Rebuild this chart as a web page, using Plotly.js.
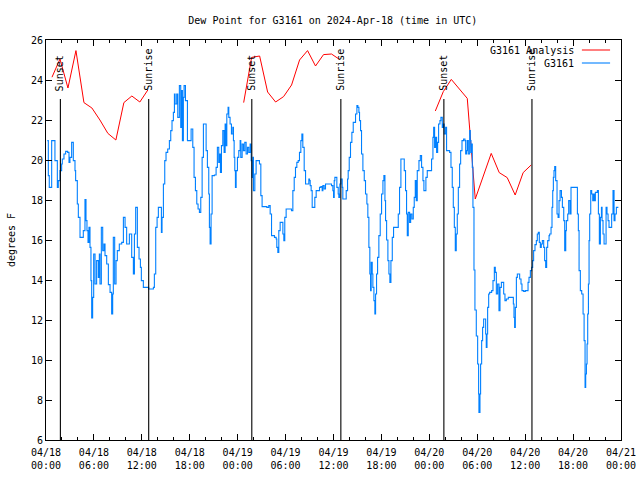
<!DOCTYPE html>
<html>
<head>
<meta charset="utf-8">
<script src="https://cdn.plot.ly/plotly-3.0.1.min.js"></script>
<style>html,body{margin:0;padding:0;background:#fff;}#chart{width:640px;height:480px;}</style>
</head>
<body>
<div id="chart"></div>
<script>
// Hours since 2024-04-18 00:00 UTC
var analysisHours = [
  0.75,1.75,2.75,3.75,4.75,5.75,6.75,7.75,8.75,9.75,10.75,11.75,12.75, null,
  24.75,25.75,26.75,27.75,28.75,29.75,30.75,31.75,32.75,33.75,34.75,35.75,36.75, null,
  48.75,49.75,50.75,51.75,52.75,53.75,54.75,55.75,56.75,57.75,58.75,59.75,60.75
];
var analysisDew = [
  24.14,25.05,23.6,25.47,22.87,22.6,22.0,21.33,21.0,22.87,23.2,22.9,23.5, null,
  22.87,25.13,25.2,23.4,22.9,23.17,23.75,25.0,25.47,24.7,25.27,25.3,25.03, null,
  22.45,23.42,24.03,23.58,23.08,18.05,19.17,20.33,19.37,19.12,18.25,19.37,19.75
];

var obsHours = [
  0.16,0.29,0.41,0.71,0.91,1.12,1.42,1.54,1.75,1.96,2.04,2.25,2.46,2.71,2.88,3.0,3.21,3.42,3.63,3.71,
  3.92,4.05,4.26,4.47,4.67,4.88,5.01,5.13,5.26,5.38,5.51,5.63,5.72,5.84,5.97,6.14,6.34,6.55,6.68,6.76,
  6.93,7.1,7.26,7.39,7.6,7.81,8.02,8.22,8.35,8.43,8.6,8.77,8.93,9.18,9.48,9.69,9.9,10.1,10.44,10.73,
  10.94,11.07,11.23,11.44,11.65,11.82,11.94,12.19,12.61,12.86,13.45,13.57,13.74,13.91,14.07,14.28,14.45,14.53,14.7,14.87,
  15.03,15.24,15.45,15.62,15.78,15.95,16.08,16.16,16.37,16.5,16.7,16.87,17.0,17.08,17.2,17.29,17.46,17.71,
  17.96,18.17,18.38,18.54,18.71,18.88,19.04,19.21,19.38,19.55,19.71,19.96,20.05,20.21,20.38,20.46,20.55,20.67,20.8,21.09,
  21.3,21.46,21.63,21.72,21.84,21.97,22.14,22.3,22.43,22.55,22.64,22.8,22.89,23.05,23.22,23.39,23.47,23.56,23.64,23.72,
  23.81,23.97,24.14,24.31,24.39,24.56,24.72,24.89,25.06,25.23,25.39,25.56,25.69,25.81,25.9,25.98,26.15,26.31,26.52,26.73,
  26.9,27.06,27.36,27.65,27.9,28.07,28.24,28.4,28.61,28.82,28.9,29.03,29.15,29.32,29.49,29.66,29.78,29.9,30.07,30.32,
  30.57,30.74,30.91,31.08,31.24,31.41,31.58,31.74,31.91,32.04,32.16,32.33,32.5,32.66,32.83,32.91,33.0,33.08,33.2,33.33,
  33.49,33.66,33.83,34.04,34.25,34.42,34.58,34.67,34.83,35.0,35.3,35.59,35.75,35.92,36.01,36.09,36.17,
  36.42,36.59,36.67,36.8,36.92,37.09,37.17,37.42,37.59,37.76,37.84,37.97,38.13,38.3,38.47,38.63,38.76,38.93,39.05,39.18,
  39.26,39.39,39.51,39.68,39.85,40.01,40.18,40.3,40.43,40.55,40.64,40.72,40.85,40.93,41.06,41.18,41.27,41.39,41.52,41.68,
  41.85,42.02,42.19,42.31,42.44,42.52,42.65,42.81,42.94,43.06,43.19,43.36,43.52,43.77,44.02,44.11,44.27,44.44,44.73,44.86,
  45.02,45.15,45.24,45.36,45.53,45.66,45.82,45.99,46.11,46.24,46.36,46.49,46.7,46.87,47.03,47.2,47.32,47.45,47.57,47.74,
  47.95,48.2,48.28,48.45,48.54,48.66,48.79,48.91,49.04,49.16,49.33,49.45,49.62,49.74,49.87,50.04,50.16,50.33,50.54,50.71,
  50.87,51.0,51.13,51.25,51.37,51.5,51.63,51.79,51.92,52.09,52.29,52.46,52.55,52.67,52.75,52.88,53.05,53.13,53.21,53.3,
  53.38,53.46,53.59,53.71,53.88,
  54.05,54.17,54.21,54.34,54.42,54.55,54.67,54.8,54.97,55.05,55.13,55.22,55.3,55.43,55.55,55.8,55.97,56.14,56.26,56.39,
  56.55,56.72,56.85,57.02,57.18,57.31,57.47,57.64,57.89,58.14,58.39,58.52,58.6,58.68,58.77,58.9,59.02,59.19,59.31,59.48,
  59.6,59.81,60.02,60.23,60.36,60.48,60.65,60.81,60.94,61.06,61.23,61.4,61.52,61.65,61.77,61.9,62.02,62.15,62.32,62.44,
  62.57,62.69,62.82,62.99,63.07,63.24,63.36,63.45,63.53,63.61,63.7,63.82,63.99,64.12,64.24,64.37,64.54,64.66,64.83,64.95,
  65.08,65.16,65.33,65.45,65.62,65.74,66.0,66.25,66.41,66.54,66.66,66.75,66.91,67.08,67.25,67.38,67.5,67.58,67.67,67.75,
  67.83,67.92,68.0,68.08,68.21,68.33,68.46,68.54,68.67,68.79,68.92,69.04,69.17,69.29,69.42,69.55,69.63,69.75,69.88,70.0,
  70.13,70.25,70.38,70.5,70.67,70.83,71.0,71.13,71.25,71.42,71.67
];
var obsDew = [
  20.97,19.22,18.63,20.97,20.97,19.97,18.63,18.97,19.47,19.8,20.05,20.3,20.43,20.38,19.88,20.13,20.88,19.97,19.47,18.97,
  17.8,17.13,16.13,16.13,16.47,18.02,16.97,16.47,15.88,16.63,15.63,13.97,12.1,13.13,15.3,13.8,14.97,14.13,15.3,13.8,
  16.63,15.47,15.8,15.22,14.8,13.77,13.38,12.3,13.3,16.13,13.8,14.97,15.47,15.8,15.88,17.13,16.63,15.8,16.3,15.13,
  14.3,16.3,17.63,15.63,15.05,14.63,13.97,13.63,13.63,13.55,13.63,14.3,16.63,17.13,17.63,17.63,16.38,17.13,18.8,19.97,
  20.38,20.55,20.97,21.47,21.97,22.38,23.3,22.8,23.3,22.13,23.72,21.63,23.47,20.97,23.13,23.72,22.97,20.97,
  20.97,21.55,20.63,19.13,18.47,17.8,17.55,17.38,18.13,20.13,21.8,21.8,20.47,19.63,18.3,16.63,15.8,17.3,19.22,19.25,
  19.63,20.63,19.88,20.3,19.38,20.72,21.47,20.38,21.8,20.72,22.3,22.63,22.13,21.8,21.3,21.63,20.97,20.13,19.47,18.63,
  19.47,20.13,20.47,20.97,20.13,20.8,20.47,20.88,20.3,20.63,20.38,20.8,19.97,19.13,20.13,18.47,19.3,19.97,19.97,19.8,
  18.22,17.67,17.67,17.63,17.72,17.3,16.22,16.22,16.13,16.05,15.63,15.38,16.47,16.88,16.88,16.3,15.97,17.13,17.55,17.55,
  17.55,17.47,18.47,19.13,19.63,19.88,19.97,20.38,20.97,21.3,20.63,19.47,18.8,18.8,18.8,19.05,18.97,18.72,18.47,17.63,
  17.63,18.13,18.47,18.47,18.63,18.67,18.47,18.72,18.55,18.8,18.8,18.8,18.72,18.47,18.13,18.97,19.13,
  18.63,18.3,18.13,18.8,19.05,18.63,18.05,18.05,18.47,19.05,19.47,20.13,20.88,21.38,21.88,21.88,22.3,22.72,22.63,22.38,
  21.97,21.47,20.3,19.47,18.97,18.3,17.8,17.13,15.63,14.3,13.47,14.88,14.3,13.63,12.97,12.3,13.3,14.3,15.13,16.22,
  17.3,18.3,18.97,19.22,17.97,16.97,16.0,14.97,14.3,13.88,14.97,16.13,16.63,16.63,16.63,17.3,18.63,20.05,20.05,19.47,
  18.47,17.3,16.22,17.38,16.88,17.3,17.05,17.63,18.13,18.97,17.97,19.47,19.97,20.22,19.63,18.97,18.47,18.47,19.13,19.47,
  19.47,19.47,20.05,21.13,21.63,20.63,21.13,20.38,20.88,21.8,21.97,22.13,21.63,21.8,21.3,21.63,20.47,20.47,20.38,19.63,
  18.63,17.63,16.63,15.47,16.3,17.3,18.63,19.8,20.47,20.97,21.05,20.97,20.3,20.47,20.97,20.3,21.47,20.97,20.38,20.8,
  19.63,17.63,14.5,12.5,11.2,
  9.8,8.3,7.38,8.3,9.8,10.97,11.63,12.05,12.05,11.3,10.63,11.3,12.63,13.3,13.38,13.47,13.97,14.63,14.38,13.3,
  13.8,12.47,13.63,13.88,13.88,13.3,12.97,13.05,13.13,13.13,13.13,12.8,12.13,11.63,12.63,14.13,14.3,14.3,14.05,13.8,
  13.47,13.43,13.47,13.47,13.88,14.13,14.47,14.63,14.97,15.47,15.77,15.97,16.3,16.38,15.88,15.63,15.8,15.97,15.63,14.97,
  14.63,15.63,15.97,16.22,16.3,16.63,17.63,18.47,19.13,19.47,19.67,18.97,17.3,17.13,17.97,18.47,18.13,17.63,16.97,15.47,
  16.47,16.97,17.3,17.97,17.3,18.63,18.63,18.63,18.63,17.3,16.47,14.47,13.47,13.3,12.3,10.97,8.63,9.3,9.8,10.8,
  12.3,13.8,15.97,17.3,18.47,18.3,17.97,18.3,17.97,18.38,18.38,18.47,17.3,15.8,17.13,17.63,16.97,16.3,15.8,15.8,
  17.63,17.3,16.97,16.63,16.63,17.3,18.47,16.97,17.3,17.63,17.63
];

var sunsetHours = [1.8, 25.77, 49.82];
var sunriseHours = [12.86, 36.92, 60.85];

var tickHours = [0,6,12,18,24,30,36,42,48,54,60,66,72];
var tickLabels = ['04/18<br>00:00','04/18<br>06:00','04/18<br>12:00','04/18<br>18:00',
  '04/19<br>00:00','04/19<br>06:00','04/19<br>12:00','04/19<br>18:00',
  '04/20<br>00:00','04/20<br>06:00','04/20<br>12:00','04/20<br>18:00','04/21<br>00:00'];

var BASE = Date.UTC(2024, 3, 18, 0, 0, 0);
function toTime(h) { return h === null ? null : BASE + h * 3600000; }

var FONT = 'DejaVu Sans Mono, Liberation Mono, monospace';

var traces = [
  {
    x: analysisHours.map(toTime), y: analysisDew, type: 'scatter', mode: 'lines',
    line: {color: '#ff0000', width: 1}, connectgaps: false, showlegend: false, hoverinfo: 'skip'
  },
  {
    x: obsHours.map(toTime), y: obsDew, type: 'scatter', mode: 'lines',
    line: {color: '#0080ff', width: 1.1, shape: 'hv'}, showlegend: false, hoverinfo: 'skip'
  }
];

var shapes = [];
var annotations = [];
function addSun(h, label) {
  shapes.push({type: 'line', xref: 'x', yref: 'paper', x0: toTime(h), x1: toTime(h), y0: 0, y1: 0.8525,
    line: {color: '#000', width: 1.1}});
  annotations.push({x: toTime(h), xref: 'x', y: 0.8675, yref: 'paper', text: label, showarrow: false,
    textangle: -90, xanchor: 'center', yanchor: 'bottom', font: {family: FONT, size: 10, color: '#000'}});
}
sunsetHours.forEach(function (h) { addSun(h, 'Sunset'); });
sunriseHours.forEach(function (h) { addSun(h, 'Sunrise'); });

// legend (gnuplot style: text then sample)
var legendItems = [
  {name: 'G3161 Analysis', color: '#ff0000', width: 1, y: 0.975},
  {name: 'G3161', color: '#0080ff', width: 1.1, y: 0.9425}
];
legendItems.forEach(function (it) {
  annotations.push({x: 0.921, xref: 'paper', y: it.y, yref: 'paper', text: it.name, showarrow: false,
    xanchor: 'right', yanchor: 'middle', font: {family: FONT, size: 10, color: '#000'}});
  shapes.push({type: 'line', xref: 'paper', yref: 'paper', x0: 0.932, x1: 0.981, y0: it.y, y1: it.y,
    line: {color: it.color, width: it.width}});
});

var layout = {
  width: 640, height: 480,
  margin: {l: 46, r: 19, t: 40, b: 40, pad: 0},
  paper_bgcolor: '#fff', plot_bgcolor: '#fff',
  font: {family: FONT, size: 10, color: '#000'},
  title: {text: 'Dew Point for G3161 on 2024-Apr-18 (time in UTC)', x: 0.52, xanchor: 'center', y: 0.958, yanchor: 'middle',
    font: {family: FONT, size: 10, color: '#000'}},
  showlegend: false,
  xaxis: {
    type: 'date', range: [toTime(0), toTime(72)],
    tickmode: 'array', tickvals: tickHours.map(toTime), ticktext: tickLabels,
    ticks: 'inside', ticklen: 6, tickcolor: '#000', tickwidth: 1,
    showline: true, linecolor: '#000', linewidth: 1, mirror: 'allticks',
    showgrid: false, zeroline: false, ticklabelstandoff: 3,
    minor: {ticks: 'inside', ticklen: 3, tickcolor: '#000', dtick: 2 * 3600000, tick0: toTime(0), showgrid: false},
    tickfont: {family: FONT, size: 10, color: '#000'}
  },
  yaxis: {
    range: [6, 26], dtick: 2, tick0: 6,
    ticks: 'inside', ticklen: 6, tickcolor: '#000', tickwidth: 1,
    showline: true, linecolor: '#000', linewidth: 1, mirror: 'allticks',
    showgrid: false, zeroline: false,
    tickfont: {family: FONT, size: 10, color: '#000'},
    title: {text: 'degrees F', font: {family: FONT, size: 10, color: '#000'}, standoff: 13}
  },
  shapes: shapes,
  annotations: annotations
};

Plotly.newPlot('chart', traces, layout, {displayModeBar: false, staticPlot: true});
</script>
</body>
</html>
